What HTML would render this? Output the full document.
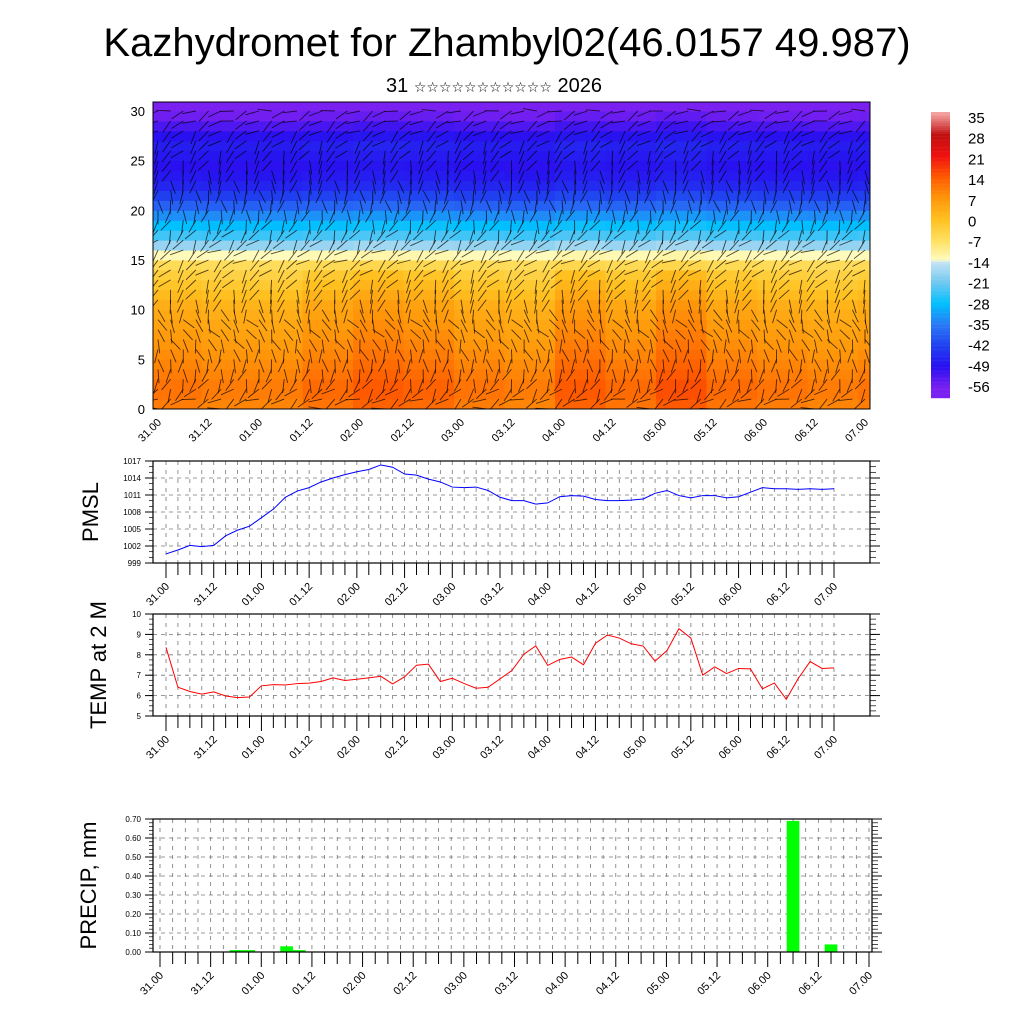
<!DOCTYPE html>
<html><head><meta charset="utf-8"><style>
body{margin:0;background:#fff;}
svg{display:block;font-family:"Liberation Sans",sans-serif;}
</style></head><body>
<svg id="c" width="1024" height="1024" viewBox="0 0 1024 1024" xmlns="http://www.w3.org/2000/svg">
<text x="507" y="56" font-size="40" text-anchor="middle">Kazhydromet for Zhambyl02(46.0157 49.987)</text>
<text x="494" y="92" font-size="20" text-anchor="middle">31 <tspan font-size="14" font-family="DejaVu Sans">☆☆☆☆☆☆☆☆☆☆☆</tspan> 2026</text>
</svg>
<script>
const xLabels=["31.00","31.12","01.00","01.12","02.00","02.12","03.00","03.12","04.00","04.12","05.00","05.12","06.00","06.12","07.00"];
const pmsl=[1000.6,1001.3,1002.1,1001.9,1002.1,1003.8,1004.8,1005.5,1007.0,1008.5,1010.6,1011.7,1012.3,1013.3,1014.0,1014.6,1015.1,1015.5,1016.3,1015.9,1014.7,1014.5,1013.8,1013.3,1012.4,1012.3,1012.4,1011.8,1010.6,1010.0,1010.0,1009.4,1009.6,1010.7,1010.9,1010.8,1010.2,1010.0,1010.0,1010.1,1010.3,1011.3,1011.8,1010.9,1010.5,1010.9,1010.9,1010.5,1010.7,1011.5,1012.3,1012.1,1012.1,1012.0,1012.1,1012.0,1012.1];
const temp2m=[8.36,6.41,6.20,6.07,6.18,5.98,5.90,5.93,6.48,6.54,6.52,6.59,6.61,6.69,6.87,6.74,6.80,6.87,6.95,6.57,6.92,7.49,7.54,6.69,6.85,6.59,6.36,6.41,6.82,7.23,8.03,8.44,7.48,7.77,7.89,7.51,8.56,8.97,8.82,8.54,8.43,7.69,8.21,9.28,8.82,7.00,7.41,7.08,7.33,7.31,6.33,6.62,5.82,6.84,7.67,7.33,7.36];
const precipStep=[6,7,10,11,50,53];
const precipVal=[0.01,0.01,0.03,0.01,0.69,0.04];
const pmslTicks=[999,1002,1005,1008,1011,1014,1017];
const tempTicks=[5,6,7,8,9,10];
const precipTicks=[0,0.1,0.2,0.3,0.4,0.5,0.6,0.7];
const levels=[0,1,2,3,4,5,6,7,8,9,10,11,12,13,14,15,16,17,18,19,20,21,22,23,24,25,26,27,28,29,30,31];
const tProfile=[10,11,11,10,9,8,7,6,5,4,3,1,-1,-3,-6,-13,-18,-24,-28,-33,-38,-42,-46,-48,-49,-48,-47,-49,-52,-55,-58,-59];
const tAnomaly=[0,-1,-1,1,3,2,0,-1,3,1,4,1,0,-1,0];
const cbLabels=[35,28,21,14,7,0,-7,-14,-21,-28,-35,-42,-49,-56];
const windDir=[200,210,230,250,260,270,280,290,300,300,280,260,250,240,230,220,220,230,240,250,260,270,270,270,260,250,240,230,220,210,200,190];

const svg=document.getElementById('c');const NS='http://www.w3.org/2000/svg';
function el(t,a,p){const e=document.createElementNS(NS,t);for(const k in a)e.setAttribute(k,a[k]);(p||svg).appendChild(e);return e;}
const stops=[[-59,[122,32,240]],[-56,[122,32,240]],[-49,[40,16,240]],[-42,[32,64,240]],[-35,[42,122,245]],[-28,[0,192,255]],[-21,[112,200,240]],[-14,[200,228,244]],[-13.5,[255,252,192]],[-7,[255,224,96]],[0,[255,192,32]],[7,[255,150,10]],[14,[255,90,0]],[21,[240,16,16]],[28,[192,16,16]],[35,[244,160,160]]];
function cmap(v){if(v<=stops[0][0])return 'rgb('+stops[0][1]+')';for(let i=1;i<stops.length;i++){if(v<=stops[i][0]){const a=stops[i-1],b=stops[i],f=(v-a[0])/(b[0]-a[0]);return 'rgb('+a[1].map((c,j)=>Math.round(c+(b[1][j]-c)*f)).join(',')+')';}}return 'rgb('+stops[stops.length-1][1]+')';}

const T={x0:153,x1:870,y0:102,y1:409};
const tx=i=>T.x0+5+(T.x1-T.x0-10)*i/56;
const ty=h=>409-h*(409-111)/30;
const topG=el('g',{});
const cp=el('clipPath',{id:'tc'},topG);
el('rect',{x:T.x0,y:T.y0,width:T.x1-T.x0,height:T.y1-T.y0},cp);
const hg=el('g',{'clip-path':'url(#tc)'},topG);
for(let c=0;c<57;c++){const ai=Math.min(14,Math.floor(c/4));const an=tAnomaly[ai];
 for(let l=0;l<levels.length-1;l++){const v=tProfile[l]+(l<14?an:an*0.3);
  const r=el('rect',{x:tx(c)-7,y:ty(levels[l+1]),width:14,height:ty(levels[l])-ty(levels[l+1])+0.5,fill:cmap(v)},hg);
  
  }}
for(let c=0;c<57;c++){for(let l=0;l<31;l++){const d=(windDir[l]+((c*37+l*11)%60)-30)*Math.PI/180;const x=tx(c),y=ty(levels[l]);
 const ln=el('line',{x1:x,y1:y,x2:x+14*Math.cos(d),y2:y-14*Math.sin(d),stroke:'rgba(0,0,0,0.7)','stroke-width':0.9},hg);
 
 }}
el('rect',{x:T.x0,y:T.y0,width:T.x1-T.x0,height:T.y1-T.y0,fill:'none',stroke:'#000','stroke-width':1},topG);
[0,5,10,15,20,25,30].forEach(v=>{const t=el('text',{x:145,y:ty(v)+5,'font-size':13,'text-anchor':'end'},topG);t.textContent=v;});
xLabels.forEach((s,i)=>{const x=158+50.5*i;const t=el('text',{x:x+4,y:423,'font-size':11,'text-anchor':'end',transform:`rotate(-45 ${x+4} 423)`},topG);t.textContent=s;});
const cb=el('g',{});
for(let i=0;i<130;i++){const v=-59+i*(95/130);el('rect',{x:931,y:398-(i+1)*2.2,width:19,height:2.4,fill:cmap(v)},cb);}
cbLabels.forEach((v,i)=>{const t=el('text',{x:968,y:123+i*20.7,'font-size':15},cb);t.textContent=v;});

function panel(o){
 const g=el('g',{});
 const {x0,x1,y0,y1,vmin,vmax}=o;
 const ys=v=>y1-(v-vmin)/(vmax-vmin)*(y1-y0);
 const xs=i=>o.xa+(o.xb-o.xa)*i/56;
 for(let i=0;i<=56;i++){const x=xs(i);el('line',{x1:x,y1:y0,x2:x,y2:y1,stroke:'#777','stroke-width':0.8,'stroke-dasharray':'4,5'},g);
   el('line',{x1:x,y1:y1,x2:x,y2:y1+(i%4==0?15:12),stroke:'#000','stroke-width':1},g);}
 o.ticks.forEach(v=>{const y=ys(v);el('line',{x1:x0,y1:y,x2:x1,y2:y,stroke:'#777','stroke-width':0.8,'stroke-dasharray':'4,4'},g);
   el('line',{x1:x0-8,y1:y,x2:x0,y2:y,stroke:'#000'},g);el('line',{x1:x1,y1:y,x2:x1+10,y2:y,stroke:'#000'},g);
   const t=el('text',{x:x0-12,y:y+3,'font-size':o.fs,'text-anchor':'end'},g);t.textContent=o.fmt(v);});
 for(let v=vmin;v<=vmax+1e-9;v+=o.minor){const y=ys(v);el('line',{x1:x0-4,y1:y,x2:x0,y2:y,stroke:'#000','stroke-width':0.7},g);el('line',{x1:x1,y1:y,x2:x1+6,y2:y,stroke:'#000','stroke-width':0.7},g);}
 if(o.data){const p=el('polyline',{points:o.data.map((v,i)=>xs(i)+','+ys(v)).join(' '),fill:'none',stroke:o.color,'stroke-width':1},g);}
 if(o.bars){const w=(o.xb-o.xa)/56;o.bars.forEach((s,k)=>{const b=el('rect',{x:xs(s)-w/2,y:ys(o.barv[k]),width:w,height:y1-ys(o.barv[k]),fill:'#00ff00'},g);});}
 el('rect',{x:x0,y:y0,width:x1-x0,height:y1-y0,fill:'none',stroke:'#000','stroke-width':1.2},g);
 xLabels.forEach((s,i)=>{const x=xs(i*4);const yy=y1+24;const t=el('text',{x:x+4,y:yy,'font-size':11,'text-anchor':'end',transform:`rotate(-45 ${x+4} ${yy})`},g);t.textContent=s;});
 const t=el('text',{x:o.tx,y:(y0+y1)/2,'font-size':22,'text-anchor':'middle',transform:`rotate(-90 ${o.tx} ${(y0+y1)/2})`},g);t.textContent=o.title;
}
panel({name:'pmsl-panel',x0:153,x1:870,y0:461,y1:563,vmin:999,vmax:1017,ticks:pmslTicks,minor:1,fs:8,fmt:v=>v,xa:166,xb:834,data:pmsl,color:'#0000ff',title:'PMSL',tx:98});
panel({name:'temp-panel',x0:153,x1:870,y0:614,y1:716,vmin:5,vmax:10,ticks:tempTicks,minor:0.25,fs:8,fmt:v=>v,xa:166,xb:834,data:temp2m,color:'#ff0000',title:'TEMP at 2 M',tx:106});
panel({name:'precip-panel',x0:153,x1:872,y0:819,y1:952,vmin:0,vmax:0.7,ticks:precipTicks,minor:0.02,fs:8,fmt:v=>v.toFixed(2),xa:160,xb:869,bars:precipStep,barv:precipVal,title:'PRECIP, mm',tx:96});
</script>
</body></html>
